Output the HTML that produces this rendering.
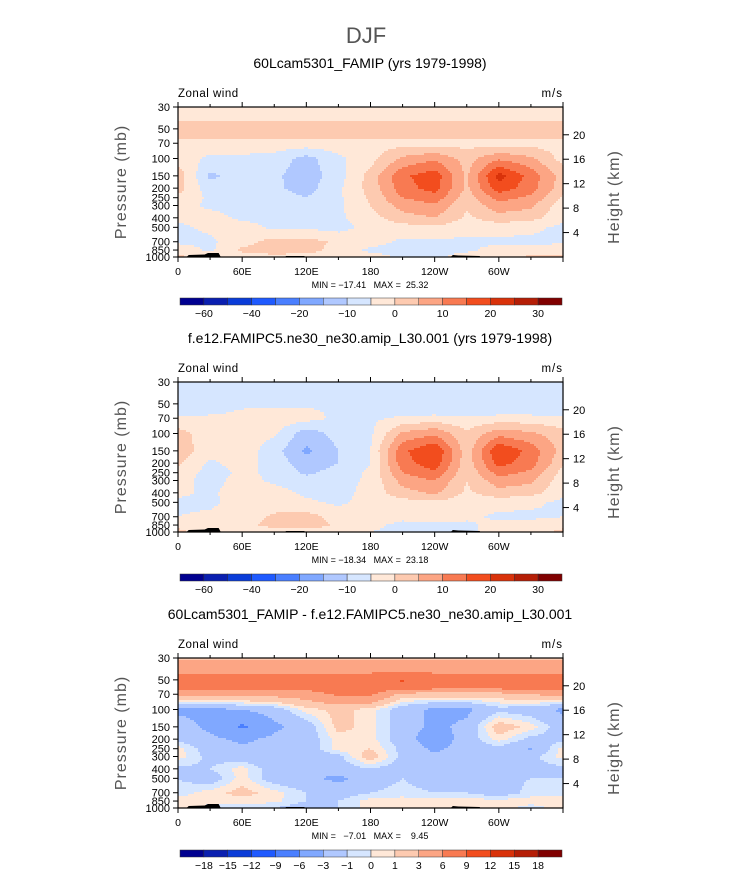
<!DOCTYPE html>
<html><head><meta charset="utf-8"><style>
body{margin:0;background:#fff;}
svg{display:block;font-family:"Liberation Sans",sans-serif;}
</style></head><body>
<svg id="fig" width="733" height="888" viewBox="0 0 733 888">
<text x="366" y="43" text-anchor="middle" font-size="22" fill="#555" font-weight="300">DJF</text>
</svg>
<script>
const lons = [0,30,60,90,120,150,180,210,240,270,300,330,360];
const pres = [30,40,50,60,70,100,150,200,250,300,400,500,700,850,1000];
const colors = ['#000090','#0a1fb0','#0a3cd8','#1f5aff','#4a7fff','#80a8ff','#b0c8ff','#d6e6ff','#ffe8d8','#fdcab0','#fca584','#f87a52','#f24d1e','#d9320a','#b51e06','#800000'];
const levelsAbs = [-60,-50,-40,-30,-20,-15,-10,-5,0,5,10,15,20,25,30];
const labelsAbs = ['-60','','-40','','-20','','-10','','0','','10','','20','','30'];
const levelsDiff = [-18,-15,-12,-9,-6,-3,-1,0,1,3,6,9,12,15,18];
const labelsDiff = ['-18','-15','-12','-9','-6','-3','-1','0','1','3','6','9','12','15','18'];
const pTicks = [30,50,70,100,150,200,250,300,400,500,700,850,1000];
const hTicks = [4,8,12,16,20];
const xTicks = [0,60,120,180,240,300,360];
const xTickLabels = ['0','60E','120E','180','120W','60W',''];

const data1 = [
[-2,-2,-2,-2,-2,-2,-2,-2,-2,-2,-2,-2,-2],
[-1,-1,-1,-1,-1,-1,-1,-1,-1,-1,-1,-1,-1],
[4,4,4,4,4,4,4,4,4,4,4,4,4],
[2,2,2,2,2,2,2,2,2,2,2,2,2],
[-2,-2,-2,-2,-2,-2,-2,-2,-2,-2,-2,-2,-2],
[-2,-6,-6,-7,-12,-6,-2,6,9,3,9,6,-2],
[3,-11,-8,-9,-13,-7,2,14,18,4,22,13,3],
[2,-8,-7,-9,-12,-6,2,13,17,4,18,12,2],
[-1,-6,-7,-8,-10,-6,1,10,13,2,12,9,-1],
[-3,-6,-7,-7,-8,-6,0,7,9,1,8,6,-3],
[-4,-3,-6,-6,-6,-6,-2,3,5,-1,3,2,-4],
[-6,-4,-3,-6,-6,-7,-3,-2,-1,-3,-3,-4,-6],
[-6,-6,-2,2,2,-1,-3,-6,-6,-6,-6,-6,-6],
[-2,-6,1,3,2,-2,-6,-7,-6,-6,-3,-3,-2],
[1,-2,-2,-2,-2,-2,-3,-6,-6,-3,-2,1,1]];
const data2 = [
[-7,-7,-7,-7,-7,-7,-7,-7,-7,-7,-7,-7,-7],
[-7,-7,-7,-7,-7,-7,-7,-7,-7,-7,-7,-7,-7],
[-7,-7,-7,-7,-7,-7,-7,-7,-7,-7,-7,-7,-7],
[-7,-7,-4,-3,-3,-7,-7,-7,-7,-7,-7,-7,-7],
[-4,-3,-3,-2,-3,-6,-6,-4,-3,-4,-3,-3,-4],
[2,-3,-3,-4,-13,-8,-6,6,9,1,8,6,2],
[3,-3,-2,-8,-16,-10,-5,14,20,2,20,13,3],
[1,-6,-3,-7,-13,-10,-5,13,18,2,17,12,1],
[-2,-7,-4,-6,-11,-8,-4,10,14,1,12,9,-2],
[-3,-7,-3,-6,-8,-7,-4,7,10,0,8,6,-3],
[-4,-6,-2,-3,-6,-7,-3,3,6,-1,3,2,-4],
[-6,-6,-3,-3,-4,-6,-3,-2,-1,-3,-3,-4,-6],
[-5,-4,-3,1,2,-2,-3,-4,-3,-4,-6,-6,-5],
[-1,-3,-2,2,3,-1,-4,-6,-6,-6,-3,-3,-1],
[1,-2,-3,-3,-3,-3,-5,-6,-6,-6,-3,-2,1]];
const data3 = [
[2.5,2.5,2.5,2.5,2.5,2.5,2.5,2.5,2.5,2.5,2.5,2.5,2.5],
[5,5,5,5,5,5,5,5,5,5,5,5,5],
[8,8,8,8,8,8,8.5,9.3,8.5,8,8,8,8],
[7,7,7,7,7,8,8,7.5,7,7,7,7,7],
[4,4,4,4,4.5,6.5,6.5,2,2,2,2,3,4],
[-3.5,-3.5,-3,-2,0.5,1.5,0.5,-2,-3.5,-3.5,-1.5,-2,-3.5],
[-2,-3.5,-6.5,-3.5,-2,1.5,0.5,-2,-3.5,-2.5,2,0.5,-2],
[-1.5,-2.5,-3.5,-2.5,-2,0.5,0.5,-2,-4.5,-2,0.5,-1.5,-1.5],
[0.5,-2,-2.5,-2.5,-2,0.5,1,-1.5,-3.5,-2,-1.5,-3.2,0.5],
[0.5,-1.5,-2,-2.5,-2,-1.5,2,-1.5,-2.5,-1.5,-1.5,-1.5,0.5],
[-1.5,-1,0.5,-2,-2.5,-2,-1,-2,-2,-1.5,-1.5,-1.5,-1.5],
[-1,-2,0.5,-2,-2.5,-3.5,-2,-1,-2,-1.5,-1.5,-1,-1],
[-0.5,0.5,1.5,0.5,-1,-2,-1,-0.5,-1,-1,-2,-0.5,-0.5],
[0.5,0.5,0.5,0.3,-1,-1,0.5,0.5,0.5,0.5,0.5,0.5,0.5],
[0.5,-0.5,-0.5,-1,-2,-1,0.5,0.5,0.5,0.5,0.5,-0.5,0.5]];

const NS='http://www.w3.org/2000/svg';
const svg=document.getElementById('fig');
function mk(tag,attrs,parent,txt){const e=document.createElementNS(NS,tag);for(const k in attrs)e.setAttribute(k,attrs[k]);if(txt!==undefined)e.textContent=txt;(parent||svg).appendChild(e);return e;}
const X0=178,X1=563,PW=X1-X0,PH=150;
function xOf(lon){return X0+lon/360*PW;}
function yOf(p,top){return top+Math.log10(p/30)/Math.log10(1000/30)*PH;}
function pOfY(y,top){return 30*Math.pow(1000/30,(y-top)/PH);}
function interp(data,lon,p){
  let i=0;while(i<lons.length-2&&lon>lons[i+1])i++;
  let j=0;while(j<pres.length-2&&p>pres[j+1])j++;
  const tx=(lon-lons[i])/(lons[i+1]-lons[i]);
  const ty=(Math.log(p)-Math.log(pres[j]))/(Math.log(pres[j+1])-Math.log(pres[j]));
  const a=data[j][i]*(1-tx)+data[j][i+1]*tx, b=data[j+1][i]*(1-tx)+data[j+1][i+1]*tx;
  return a*(1-ty)+b*ty;
}
function cls(v,levels){let k=0;while(k<levels.length&&v>=levels[k])k++;return k;}

function panel(top,title,data,levels,labels,minmax,cbTop,name){
  const g=mk('g',{});
  
  
  const t=mk('text',{x:370,y:top-39,'text-anchor':'middle','font-size':14},g,title);
  
  
  const field=mk('g',{},g);
  
  
  const S=2;
  for(let y=top;y<top+PH;y+=S){
    const p=pOfY(y+S/2,top);
    let runStart=X0,runC=-1;
    for(let x=X0;x<X1+S;x+=S){
      let c=-1;
      if(x<X1){const lon=Math.min(359.9,(x+S/2-X0)/PW*360);c=cls(interp(data,lon,p),levels);}
      if(c!==runC){
        if(runC>=0){const r=mk('rect',{x:runStart,y:y,width:Math.min(x,X1)-runStart+0.6,height:S+0.6,fill:colors[runC]},field);
          
          }
        runStart=x;runC=c;
      }
    }
  }
  const topo=mk('path',{d:`M${xOf(8)} ${top+PH} L${xOf(10)} ${top+PH-2} L${xOf(25)} ${top+PH-2.5} L${xOf(28)} ${top+PH-4} L${xOf(38)} ${top+PH-4} L${xOf(40)} ${top+PH} Z M${xOf(255)} ${top+PH} L${xOf(257)} ${top+PH-2} L${xOf(262)} ${top+PH-1.5} L${xOf(282)} ${top+PH-1} L${xOf(283)} ${top+PH} Z M${xOf(100)} ${top+PH} L${xOf(101)} ${top+PH-1} L${xOf(118)} ${top+PH-1} L${xOf(119)} ${top+PH} Z`,fill:'#000'},g);
  
  
  const fr=mk('rect',{x:X0,y:top,width:PW,height:PH,fill:'none',stroke:'#000','stroke-width':1.2},g);
  
  
  const z=mk('text',{x:X0,y:top-10,'font-size':11.5,'letter-spacing':'0.5'},g,'Zonal wind');
  
  
  const u=mk('text',{x:X1,y:top-10,'font-size':11.5,'text-anchor':'end','letter-spacing':'1'},g,'m/s');
  
  
  for(let i=0;i<xTicks.length;i++){
    const x=xOf(xTicks[i]);
    mk('line',{x1:x,x2:x,y1:top+PH,y2:top+PH+5,stroke:'#000'},g);
    mk('line',{x1:x,x2:x,y1:top,y2:top-5,stroke:'#000'},g);
    const l=mk('text',{x:x,y:top+PH+18,'text-anchor':'middle','font-size':10.5},g,xTickLabels[i]);
    
    
    if(i<xTicks.length-1){const xm=xOf(xTicks[i]+30);
      mk('line',{x1:xm,x2:xm,y1:top+PH,y2:top+PH+3,stroke:'#000'},g);
      mk('line',{x1:xm,x2:xm,y1:top,y2:top-3,stroke:'#000'},g);}
  }
  for(const p of pTicks){const y=yOf(p,top);
    mk('line',{x1:X0-5,x2:X0,y1:y,y2:y,stroke:'#000'},g);
    const l=mk('text',{x:X0-8,y:y+4,'text-anchor':'end','font-size':11},g,String(p));
    
    }
  for(const h of hTicks){const y=yOf(1000*Math.exp(-h/7),top);
    mk('line',{x1:X1,x2:X1+6,y1:y,y2:y,stroke:'#000'},g);
    const l=mk('text',{x:X1+10,y:y+4,'font-size':11},g,String(h));
    
    }
  const py=mk('text',{x:0,y:0,'font-size':16,fill:'#555','text-anchor':'middle',transform:`translate(126 ${top+PH/2}) rotate(-90)`,'letter-spacing':'1'},g,'Pressure (mb)');
  
  
  const hy=mk('text',{x:0,y:0,'font-size':16,fill:'#555','text-anchor':'middle',transform:`translate(619 ${top+PH/2+15}) rotate(-90)`,'letter-spacing':'1'},g,'Height (km)');
  
  
  const mm=mk('text',{x:370,y:top+PH+31,'text-anchor':'middle','font-size':9,style:'white-space:pre'},g,minmax);
  
  
  const cb=mk('g',{},g);
  
  
  const bx=180,bw=382/16;
  for(let k=0;k<16;k++){
    const r=mk('rect',{x:bx+k*bw,y:cbTop,width:bw,height:7,fill:colors[k],stroke:'#333','stroke-width':0.5},cb);
    
    
  }
  for(let k=0;k<levels.length;k++){
    if(!labels[k])continue;
    const l=mk('text',{x:bx+(k+1)*bw,y:cbTop+19,'text-anchor':'middle','font-size':10.5},cb,labels[k].replace('-','\u2212'));
    
    
  }
}
panel(107,'60Lcam5301_FAMIP (yrs 1979-1998)',data1,levelsAbs,labelsAbs,'MIN = \u221217.41   MAX =  25.32',298,'panel-famip');
panel(382,'f.e12.FAMIPC5.ne30_ne30.amip_L30.001 (yrs 1979-1998)',data2,levelsAbs,labelsAbs,'MIN = \u221218.34   MAX =  23.18',574,'panel-famipc5');
panel(658,'60Lcam5301_FAMIP - f.e12.FAMIPC5.ne30_ne30.amip_L30.001',data3,levelsDiff,labelsDiff,'MIN =   \u22127.01   MAX =    9.45',850,'panel-difference');
</script>
</body></html>
